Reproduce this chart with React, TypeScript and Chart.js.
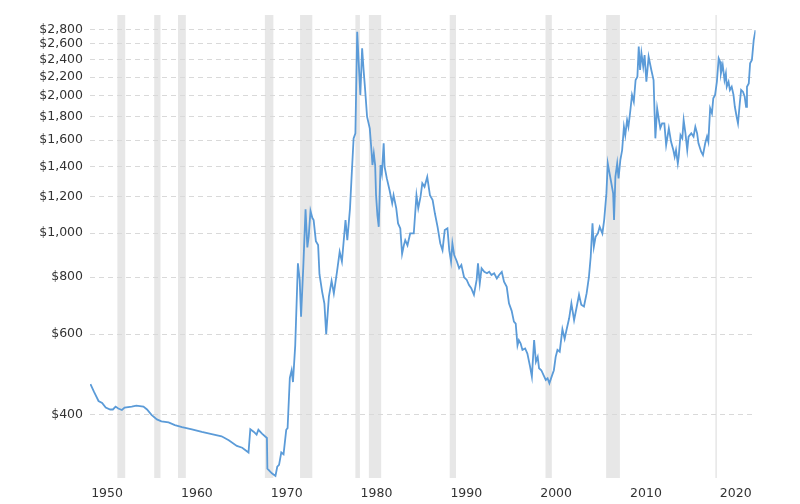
import React, { useEffect, useRef } from 'react';
import { Chart, registerables } from 'chart.js';

Chart.register(...registerables);

// Decimal year of each observation
const YEARS = [
  1950.5, 1950.9, 1951.4, 1951.8, 1952.2, 1952.7, 1953.0, 1953.3, 1953.6, 1954.0,
  1954.3, 1955.1, 1955.6, 1956.4, 1956.8, 1957.3, 1957.9, 1958.4, 1959.2, 1959.9,
  1960.7, 1961.8, 1962.9, 1964.0, 1965.1, 1965.9, 1966.8, 1967.4, 1968.1, 1968.3,
  1968.7, 1969.0, 1969.2, 1969.6, 1970.15, 1970.2, 1970.7, 1971.1, 1971.3, 1971.5,
  1971.75, 1972.0, 1972.3, 1972.45, 1972.7, 1972.9, 1973.05, 1973.3, 1973.6, 1973.8,
  1973.95, 1974.2, 1974.45, 1974.65, 1974.8, 1975.0, 1975.2, 1975.35, 1975.6, 1975.85,
  1976.0, 1976.3, 1976.55, 1976.75, 1977.05, 1977.35, 1977.6, 1977.95, 1978.25, 1978.5,
  1978.9, 1979.1, 1979.4, 1979.55, 1979.8, 1980.0, 1980.2, 1980.4, 1980.55, 1980.75,
  1980.9, 1981.1, 1981.3, 1981.6, 1981.8, 1981.9, 1982.05, 1982.2, 1982.3, 1982.45,
  1982.6, 1982.8, 1982.95, 1983.15, 1983.25, 1983.5, 1983.8, 1984.1, 1984.25, 1984.55,
  1984.75, 1985.0, 1985.2, 1985.4, 1985.55, 1985.8, 1986.1, 1986.5, 1986.8, 1987.0,
  1987.25, 1987.45, 1987.7, 1988.0, 1988.3, 1988.6, 1988.85, 1989.15, 1989.45, 1989.7,
  1989.95, 1990.25, 1990.45, 1990.65, 1990.8, 1991.0, 1991.3, 1991.55, 1991.8, 1992.1,
  1992.4, 1992.65, 1992.9, 1993.2, 1993.5, 1993.65, 1993.85, 1994.05, 1994.35, 1994.65,
  1994.9, 1995.15, 1995.45, 1995.75, 1996.0, 1996.3, 1996.55, 1996.85, 1997.1, 1997.4,
  1997.65, 1997.85, 1998.05, 1998.2, 1998.4, 1998.6, 1998.9, 1999.15, 1999.45, 1999.65,
  1999.9, 2000.1, 2000.3, 2000.45, 2000.7, 2000.95, 2001.2, 2001.4, 2001.6, 2001.85,
  2002.1, 2002.3, 2002.5, 2002.75, 2003.05, 2003.3, 2003.5, 2003.8, 2004.05, 2004.35,
  2004.65, 2004.9, 2005.15, 2005.45, 2005.75, 2006.0, 2006.2, 2006.4, 2006.55, 2006.75,
  2007.0, 2007.2, 2007.5, 2007.7, 2007.95, 2008.1, 2008.3, 2008.5, 2008.7, 2008.8,
  2008.95, 2009.15, 2009.3, 2009.5, 2009.7, 2009.9, 2010.05, 2010.25, 2010.4, 2010.6,
  2010.8, 2011.0, 2011.2, 2011.4, 2011.55, 2011.7, 2011.85, 2012.05, 2012.2, 2012.4,
  2012.65, 2012.95, 2013.2, 2013.4, 2013.6, 2013.8, 2013.95, 2014.15, 2014.4, 2014.6,
  2014.9, 2015.15, 2015.4, 2015.55, 2015.7, 2015.9, 2016.0, 2016.2, 2016.4, 2016.55,
  2016.75, 2016.95, 2017.1, 2017.4, 2017.65, 2017.85, 2018.05, 2018.2, 2018.5, 2018.7,
  2018.95, 2019.15, 2019.3, 2019.5, 2019.7, 2019.85, 2020.05, 2020.25, 2020.45, 2020.6,
  2020.7, 2020.9, 2021.1, 2021.25, 2021.35, 2021.55, 2021.7, 2021.9, 2022.1, 2022.25,
  2022.45, 2022.6, 2022.8, 2022.95, 2023.15, 2023.35, 2023.5, 2023.6, 2023.8, 2023.95,
  2024.15, 2024.35, 2024.55,
];

// Inflation-adjusted price (USD per ounce)
const PRICES = [
  466, 448, 428, 424, 414, 410, 410, 416, 412, 409,
  414, 416, 418, 416, 410, 399, 390, 386, 384, 379,
  375, 371, 366, 362, 358, 351, 341, 338, 330, 371,
  366, 361, 370, 363, 355, 304, 297, 293, 307, 310,
  330, 327, 370, 373, 481, 500, 471, 566, 858, 789,
  655, 844, 1128, 930, 982, 1119, 1080, 1068, 960, 941,
  812, 743, 700, 600, 725, 785, 737, 822, 910, 866,
  1068, 965, 1133, 1296, 1614, 1655, 2766, 2299, 2010, 2543,
  2299, 2043, 1800, 1697, 1508, 1410, 1496, 1410, 1211, 1095,
  1032, 1410, 1352, 1574, 1398, 1318, 1243, 1162, 1211, 1133,
  1050, 1024, 900, 941, 965, 940, 998, 998, 1211, 1133,
  1200, 1286, 1263, 1328, 1211, 1181, 1105, 1032, 949, 917,
  1015, 1024, 917, 866, 949, 895, 866, 837, 851, 800,
  789, 769, 757, 732, 789, 858, 775, 837, 822, 816,
  822, 809, 816, 795, 809, 822, 782, 762, 701, 675,
  639, 633, 567, 582, 572, 554, 558, 544, 509, 484,
  582, 522, 535, 505, 500, 488, 476, 480, 468, 484,
  500, 535, 554, 549, 615, 586, 612, 650, 701, 644,
  690, 732, 696, 690, 738, 800, 887, 1050, 933, 982,
  998, 1032, 998, 1068, 1222, 1422, 1352, 1286, 1222, 1068,
  1328, 1422, 1318, 1446, 1521, 1711, 1641, 1770, 1711, 1846,
  2010, 1942, 2167, 2203, 2565, 2280, 2481, 2318, 2459, 2148,
  2438, 2280, 2167, 1614, 1878, 1770, 1700, 1741, 1741, 1560,
  1697, 1586, 1521, 1471, 1521, 1422, 1471, 1641, 1614, 1770,
  1655, 1521, 1628, 1655, 1628, 1711, 1655, 1574, 1508, 1483,
  1574, 1628, 1586, 1878, 1831, 1976, 2010, 2148, 2419, 2379,
  2240, 2337, 2167, 2240, 2095, 2148, 2061, 2095, 2010, 1893,
  1800, 1741, 1927, 2061, 2043, 1991, 1893, 2095, 2130, 2358,
  2398, 2651, 2789,
];

const Y_TICKS = [400, 600, 800, 1000, 1200, 1400, 1600, 1800, 2000, 2200, 2400, 2600, 2800];
const X_TICK_YEARS = [1950, 1960, 1970, 1980, 1990, 2000, 2010, 2020];
const X_TICK_LABELS = ['1950', '1960', '1970', '1980', '1990', '2000', '2010', '2020'];
const LABEL_SHIFT = 2.35;

// US recessions (decimal years)
const RECESSION_START = [1953.5, 1957.6, 1960.25, 1969.92, 1973.84, 1980.0, 1981.5, 1990.5, 2001.17, 2007.92, 2020.08];
const RECESSION_END = [1954.37, 1958.3, 1961.12, 1970.87, 1975.2, 1980.5, 1982.87, 1991.2, 2001.87, 2009.45, 2020.25];

const X_MIN = 1950.45;
const X_MAX = 2024.55;
const Y_MIN = 290;
const Y_MAX = 3010;

const bandsPlugin = {
  id: 'recessionBands',
  beforeDraw(chart: any) {
    const { ctx, chartArea, scales } = chart;
    const x = scales.x;
    ctx.save();
    ctx.fillStyle = '#e7e7e7';
    RECESSION_START.forEach((s, i) => {
      const x0 = x.getPixelForValue(s);
      const x1 = x.getPixelForValue(RECESSION_END[i]);
      ctx.fillRect(x0, chartArea.top, Math.max(1, x1 - x0), chartArea.bottom - chartArea.top);
    });
    ctx.restore();
  },
};

export default function App() {
  const ref = useRef<HTMLCanvasElement | null>(null);

  useEffect(() => {
    if (!ref.current) return;
    const font = { family: '"DejaVu Sans", Verdana, sans-serif', size: 12.5 };
    const chart = new Chart(ref.current, {
      type: 'line',
      data: {
        datasets: [
          {
            data: YEARS.map((yr, i) => ({ x: yr, y: PRICES[i] })),
            borderColor: '#5b9bd8',
            borderWidth: 1.8,
            pointRadius: 0,
            tension: 0,
            fill: false,
          },
        ],
      },
      options: {
        animation: false,
        responsive: false,
        devicePixelRatio: 1,
        layout: { padding: { left: 0, right: 44.5, top: 15, bottom: 0 } },
        plugins: { legend: { display: false }, tooltip: { enabled: false } },
        scales: {
          x: {
            type: 'linear',
            min: X_MIN,
            max: X_MAX,
            grid: { display: false, drawTicks: false },
            border: { display: false },
            afterBuildTicks: (scale: any) => {
              scale.ticks = X_TICK_YEARS.map((y) => ({ value: y + LABEL_SHIFT }));
            },
            afterFit: (scale: any) => {
              scale.height = 26;
            },
            ticks: {
              autoSkip: false,
              maxRotation: 0,
              padding: 8,
              color: '#333',
              font,
              callback: (_v: any, i: number) => X_TICK_LABELS[i],
            },
          },
          y: {
            type: 'logarithmic',
            min: Y_MIN,
            max: Y_MAX,
            border: { display: false, dash: [5, 4] },
            grid: { color: '#d9d9d9', lineWidth: 1, drawTicks: false },
            afterBuildTicks: (scale: any) => {
              scale.ticks = Y_TICKS.map((v) => ({ value: v }));
            },
            afterFit: (scale: any) => {
              scale.width = 90;
            },
            ticks: {
              padding: 7,
              color: '#333',
              font,
              callback: (v: any) => '$' + Number(v).toLocaleString('en-US'),
            },
          },
        },
      },
      plugins: [bandsPlugin],
    });
    return () => chart.destroy();
  }, []);

  return (
    <div style={{ position: 'absolute', left: 0, top: 0, width: 800, height: 504, background: '#fff' }}>
      <canvas ref={ref} width={800} height={504} />
    </div>
  );
}
